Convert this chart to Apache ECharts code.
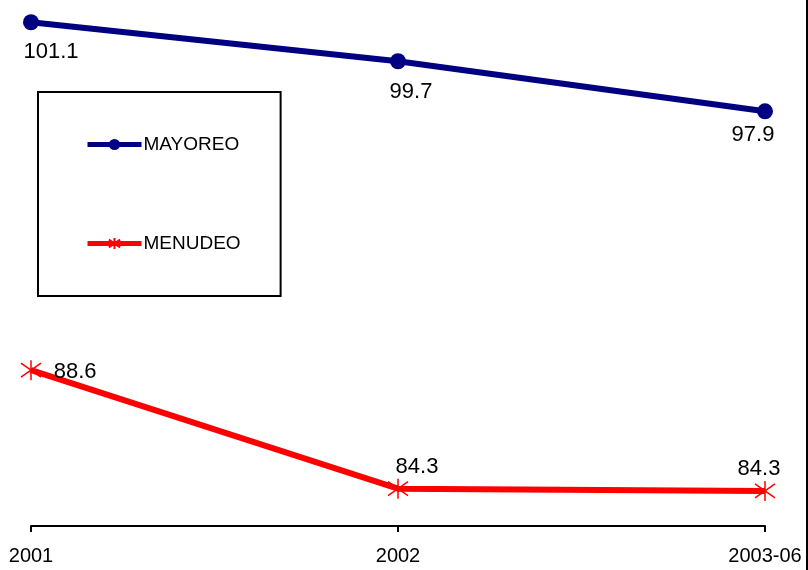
<!DOCTYPE html>
<html>
<head>
<meta charset="utf-8">
<script src="https://cdn.jsdelivr.net/npm/echarts@6/dist/echarts.min.js"></script>
<style>
  html, body { margin: 0; padding: 0; background: #fff; }
  #chart { width: 808px; height: 570px; }
</style>
</head>
<body>
<div id="chart"></div>
<script>
const years = ['2001', '2002', '2003-06'];
const mayoreo = [101.1, 99.7, 97.9];
const menudeo = [88.6, 84.34, 84.26];

// where each value label sits relative to its point
const mayoreoLabelPos = ['bottom', 'bottom', 'bottom'];
const mayoreoLabelOffset = [[20, 3], [13, 4], [-12, -3]];
const menudeoLabelPos = ['right', 'top', 'top'];
const menudeoLabelOffset = [[4, 2], [19, 8], [-6, 8]];

const asterisk = 'path://M10,0L10,20M0,3L20,17M0,17L20,3';

function withLabels(values, pos, offs) {
  return values.map((v, i) => ({
    value: v,
    label: { position: pos[i], offset: offs[i] }
  }));
}

const chart = echarts.init(document.getElementById('chart'));
chart.setOption({
  animation: false,
  textStyle: { fontFamily: 'Liberation Sans, Arial, sans-serif' },
  grid: { left: 31, right: 43, top: 0, bottom: 44, containLabel: false },
  legend: {
    orient: 'vertical',
    left: 38,
    top: 92,
    padding: [43, 40, 43, 47],
    itemGap: 80,
    itemWidth: 54,
    itemHeight: 14,
    borderColor: '#000',
    borderWidth: 2,
    lineStyle: { width: 5 },
    textStyle: { fontSize: 19, color: '#000', padding: [0, 0, 0, -3] },
    data: ['MAYOREO', 'MENUDEO']
  },
  xAxis: {
    type: 'category',
    data: years,
    boundaryGap: false,
    axisLine: { lineStyle: { color: '#000', width: 2 } },
    axisTick: { length: 6, lineStyle: { color: '#000', width: 2 } },
    axisLabel: { fontSize: 20, color: '#000', margin: 20 }
  },
  yAxis: {
    type: 'value',
    min: 83,
    max: 101.9,
    show: false
  },
  graphic: [{
    type: 'line',
    shape: { x1: 807, y1: 0, x2: 807, y2: 570 },
    style: { stroke: '#000', lineWidth: 2 }
  }],
  series: [
    {
      name: 'MAYOREO',
      type: 'line',
      data: withLabels(mayoreo, mayoreoLabelPos, mayoreoLabelOffset),
      symbol: 'circle',
      symbolSize: 16,
      lineStyle: { color: '#000080', width: 6 },
      itemStyle: { color: '#000080' },
      label: { show: true, fontSize: 22, color: '#000', distance: 8 }
    },
    {
      name: 'MENUDEO',
      type: 'line',
      data: withLabels(menudeo, menudeoLabelPos, menudeoLabelOffset),
      symbol: asterisk,
      symbolSize: 20,
      lineStyle: { color: '#ff0000', width: 6 },
      itemStyle: { color: '#ff0000', borderColor: '#ff0000', borderWidth: 1.5 },
      label: {
        show: true, fontSize: 22, color: '#000', distance: 8,
        formatter: p => p.value.toFixed(1)
      }
    }
  ]
});
</script>
</body>
</html>
